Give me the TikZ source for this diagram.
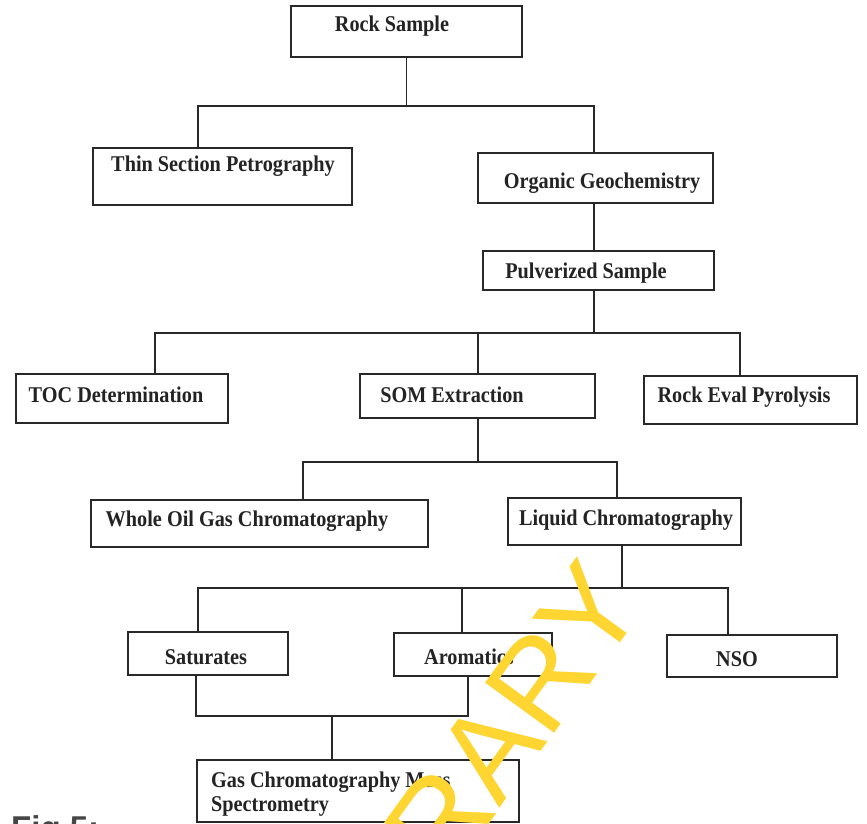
\documentclass[tikz,border=0pt]{standalone}
\usepackage{fontspec}
\setmainfont[FakeStretch=0.9]{Liberation Serif}
\setsansfont{Liberation Sans}
\definecolor{ink}{RGB}{40,40,40}
\definecolor{txt}{RGB}{35,35,35}
\definecolor{wm}{RGB}{255,213,50}
\definecolor{figgray}{RGB}{70,70,70}
\begin{document}
\begin{tikzpicture}[x=1pt,y=-1pt,
  box/.style={draw=ink,line width=1.5pt,inner sep=0pt},
  lbl/.style={text=txt,inner sep=0pt,text height=0.68em,text depth=0.22em,font=\bfseries\fontsize{22.5}{23.5}\selectfont},
  ln/.style={draw=ink,line width=1.4pt}]
\useasboundingbox[fill=white] (0,0) rectangle (867,824);
\clip (0,0) rectangle (867,824);

% boxes
\node[box,minimum width=231pt,minimum height=51pt] (rock) at (406.5,31.5) {};
\node[box,minimum width=259pt,minimum height=57pt] (thin) at (222.5,176.5) {};
\node[box,minimum width=235pt,minimum height=50pt] (org) at (595.5,178) {};
\node[box,minimum width=231pt,minimum height=39pt] (pulv) at (598.5,270.5) {};
\node[box,minimum width=212pt,minimum height=49pt] (toc) at (122,398.5) {};
\node[box,minimum width=235pt,minimum height=44pt] (som) at (477.5,396) {};
\node[box,minimum width=213pt,minimum height=48pt] (reval) at (750.5,400) {};
\node[box,minimum width=337pt,minimum height=47pt] (whole) at (259.5,523.5) {};
\node[box,minimum width=233pt,minimum height=47pt] (liq) at (624.5,521.5) {};
\node[box,minimum width=160pt,minimum height=43pt] (sat) at (208,653.5) {};
\node[box,minimum width=158pt,minimum height=43pt] (aro) at (473,654.5) {};
\node[box,minimum width=170pt,minimum height=42pt] (nso) at (752,656) {};
\node[box,minimum width=322pt,minimum height=62pt] (gcms) at (358,791) {};

% labels
\node[lbl] (rockt) at (392,29) {Rock Sample};
\node[lbl] (thint) at (223,169) {Thin Section Petrography};
\node[lbl] (orgt) at (602,186) {Organic Geochemistry};
\node[lbl] (pulvt) at (586,276) {Pulverized Sample};
\node[lbl] (toct) at (116,400) {TOC Determination};
\node[lbl] (somt) at (452,400) {SOM Extraction};
\node[lbl] (revalt) at (744,400) {Rock Eval Pyrolysis};
\node[lbl] (wholet) at (247,524) {Whole Oil Gas Chromatography};
\node[lbl] (liqt) at (626,523) {Liquid Chromatography};
\node[lbl] (satt) at (206,662) {Saturates};
\node[lbl] (arot) at (469,662) {Aromatics};
\node[lbl] (nsot) at (737,664) {NSO};
\node[lbl,anchor=west,align=left,text height=,text depth=] (gcmst) at (211,794) {Gas Chromatography Mass\\Spectrometry};

% junctions
\coordinate (a1) at (198,106);
\coordinate (a2) at (594,106);
\coordinate (b0) at (594,333);
\coordinate (b1) at (155,333);
\coordinate (b2) at (478,333);
\coordinate (b3) at (740,333);
\coordinate (c0) at (478,462);
\coordinate (c1) at (303,462);
\coordinate (c2) at (617,462);
\coordinate (d0) at (622,588);
\coordinate (d1) at (198,588);
\coordinate (d2) at (462,588);
\coordinate (d3) at (728,588);
\coordinate (e0) at (332,716);
\coordinate (e1) at (196,716);
\coordinate (e2) at (468,716);

% connectors
\draw[ln] (rock.south) -- (rock.south |- a1);
\draw[ln] (thin.north -| a1) -- (a1) -- (a2) -- (org.north -| a2);
\draw[ln] (org.south -| a2) -- (pulv.north -| a2);
\draw[ln] (pulv.south -| b0) -- (b0);
\draw[ln] (toc.north -| b1) -- (b1) -- (b3) -- (reval.north -| b3);
\draw[ln] (b2) -- (som.north -| b2);
\draw[ln] (som.south -| c0) -- (c0);
\draw[ln] (whole.north -| c1) -- (c1) -- (c2) -- (liq.north -| c2);
\draw[ln] (liq.south -| d0) -- (d0);
\draw[ln] (sat.north -| d1) -- (d1) -- (d3) -- (nso.north -| d3);
\draw[ln] (d2) -- (aro.north -| d2);
\draw[ln] (sat.south -| e1) -- (e1) -- (e2) -- (aro.south -| e2);
\draw[ln] (e0) -- (gcms.north -| e0);

% figure caption (cut off at bottom)
\node[anchor=base west,inner sep=0pt,text=figgray,font=\sffamily\bfseries\fontsize{33}{33}\selectfont] (fig) at (11,839) {Fig 5:};

% watermark
\node[rotate=54,anchor=base,inner sep=0pt,text=wm,font=\sffamily\fontsize{124}{124}\selectfont] (wmark) at (493,818) {LIBRARY};
\end{tikzpicture}
\end{document}
